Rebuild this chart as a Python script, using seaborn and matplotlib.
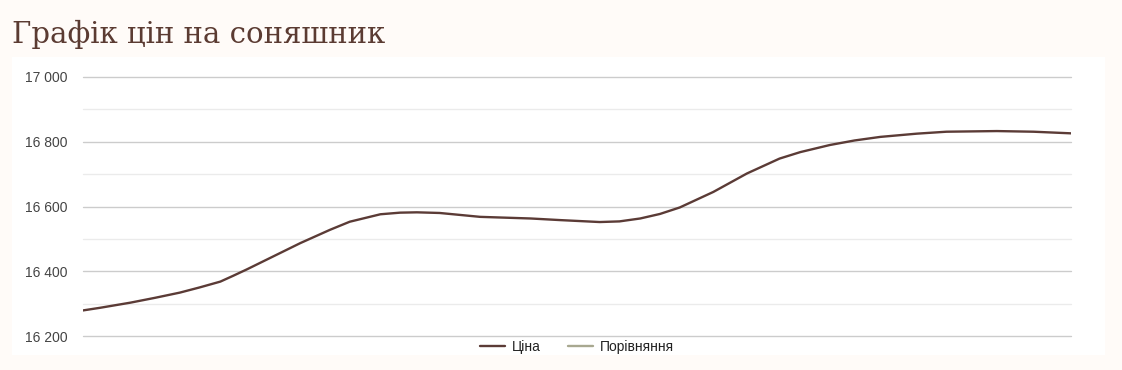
import matplotlib
matplotlib.use("Agg")
import matplotlib.pyplot as plt
import matplotlib.ticker as mticker
from matplotlib.lines import Line2D
import seaborn as sns
import pandas as pd

# ---- data ----
positions = [0, 1.7, 4.8, 7.3, 9.8, 11.8, 13.9, 15.2, 16.6, 20.0, 22.0, 25.0, 27.0,
             30.1, 32.1, 33.8, 36.1, 40.2, 45.3, 48.3, 50.3, 52.3, 54.3, 56.4,
             58.4, 60.4, 63.8, 67.2, 70.5, 72.6, 75.6, 78.1, 80.7, 84.4, 87.4,
             92.5, 96.2, 100.0]
price = [16279, 16287, 16303, 16318, 16334, 16350, 16368, 16386, 16406, 16457,
         16487, 16528, 16553, 16576, 16581, 16582, 16580, 16568, 16563, 16558,
         16555, 16552, 16554, 16563, 16577, 16597, 16645, 16702, 16748, 16768,
         16790, 16804, 16815, 16825, 16831, 16833, 16831, 16826]
series_names = ["Ціна", "Порівняння"]
y_ticks = [16200, 16400, 16600, 16800, 17000]
y_minor = [16300, 16500, 16700, 16900]
title = "Графік цін на соняшник"

df = pd.DataFrame({"pos": positions, "price": price})

W, H = 1122, 370
sns.set_theme(style="white")
plt.rcParams["font.family"] = ["Liberation Sans", "DejaVu Sans"]

fig = plt.figure(figsize=(W / 100, H / 100), dpi=100, facecolor="#fffbf8")

# white panel behind the chart
bg = fig.add_axes([12 / W, 1 - 355 / H, (1105 - 12) / W, (355 - 57) / H], zorder=0)
bg.set_facecolor("white")
bg.set_xticks([])
bg.set_yticks([])
for s in bg.spines.values():
    s.set_visible(False)

ax = fig.add_axes([83 / W, 1 - 336 / H, (1071 - 83) / W, (336 - 77) / H], zorder=1)
ax.set_facecolor("none")

line_color = "#5b3b36"
cmp_color = "#a8a890"
sns.lineplot(data=df, x="pos", y="price", ax=ax, color=line_color, linewidth=1.7,
             legend=False)
ax.lines[0].set_solid_joinstyle("round")

ax.set_xlim(0, 100)
ax.set_ylim(16200, 17000)
ax.set_yticks(y_ticks)
ax.yaxis.set_minor_locator(mticker.FixedLocator(y_minor))
ax.yaxis.set_major_formatter(mticker.FuncFormatter(lambda v, p: f"{int(v):,}".replace(",", " ")))
ax.set_xticks([])
ax.set_xlabel("")
ax.set_ylabel("")
ax.grid(True, which="major", axis="y", color="#cccccc", linewidth=1)
ax.grid(True, which="minor", axis="y", color="#ebebeb", linewidth=1)
ax.set_axisbelow(True)
for tk in ax.yaxis.get_major_ticks() + ax.yaxis.get_minor_ticks():
    tk.gridline.set_clip_on(False)
for s in ax.spines.values():
    s.set_visible(False)
ax.tick_params(axis="y", which="both", length=0, pad=11, labelsize=10, labelcolor="#444444")

handles = [Line2D([], [], color=line_color, linewidth=1.7),
           Line2D([], [], color=cmp_color, linewidth=1.7)]
leg = ax.legend(handles, series_names, loc="center", bbox_to_anchor=(577 / W, 1 - 347 / H),
                bbox_transform=fig.transFigure, ncol=2, frameon=False, fontsize=10,
                handlelength=1.8, handletextpad=0.5, columnspacing=2.0)
for t in leg.get_texts():
    t.set_color("#222222")

fig.text(12 / W, 1 - 43 / H, title, fontsize=21, color="#5b3b32",
         family=["DejaVu Serif"], ha="left", va="baseline")

fig.savefig("out.png", dpi=100, facecolor=fig.get_facecolor())
